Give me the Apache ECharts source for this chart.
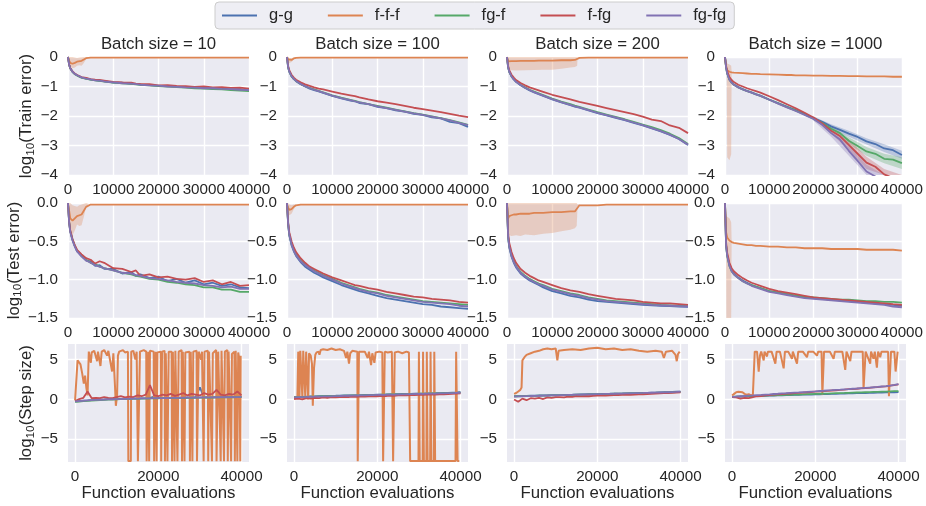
<!DOCTYPE html>
<html><head><meta charset="utf-8">
<script src="https://cdn.jsdelivr.net/npm/echarts@6/dist/echarts.min.js"></script>
<style>html,body{margin:0;padding:0;background:#fff}#c{width:926px;height:506px}</style>
</head><body><div id="c"></div>
<script>
// ---------------- data ----------------
const SERIES_NAMES = ['g-g', 'f-f-f', 'fg-f', 'f-fg', 'fg-fg'];
const SERIES_COLORS = ['#4c72b0', '#dd8452', '#55a868', '#c44e52', '#8172b3'];
const BATCH_SIZES = [10, 100, 200, 1000];
const ROW_LABELS = ['Train error', 'Test error', 'Step size'];
const X_TICKS_STEP = [0, 20000, 40000];
const Y_TICKS_STEP = [-5, 0, 5];

const X_ERR = [0,250,500,1000,1500,2000,3000,4000,5000,6000,7000,8000,10000,12000,14000,15000,16000,18000,20000,22000,24000,26000,28000,30000,32000,34000,36000,38000,40000];

// Train error (log10)
const TR10_GG   = [0,-0.26,-0.38,-0.5,-0.58,-0.62,-0.7,-0.72,-0.77,-0.78,-0.81,-0.82,-0.87,-0.87,-0.91,-0.91,-0.94,-0.95,-0.98,-0.98,-1.01,-1.02,-1.04,-1.03,-1.07,-1.06,-1.1,-1.09,-1.13];
const TR10_FFF  = [0,-0.12,-0.2,-0.23,-0.2,-0.16,-0.13,-0.04,-0.02,-0.02,-0.02,-0.02,-0.02,-0.02,-0.02,-0.02,-0.02,-0.02,-0.02,-0.02,-0.02,-0.02,-0.02,-0.02,-0.02,-0.02,-0.02,-0.02,-0.02];
const TR10_FGF  = [0,-0.26,-0.39,-0.51,-0.58,-0.63,-0.7,-0.74,-0.77,-0.79,-0.81,-0.83,-0.87,-0.89,-0.91,-0.93,-0.94,-0.96,-0.99,-1.0,-1.02,-1.04,-1.06,-1.07,-1.09,-1.1,-1.12,-1.14,-1.16];
const TR10_FFG  = [0,-0.25,-0.37,-0.49,-0.56,-0.61,-0.68,-0.71,-0.75,-0.77,-0.78,-0.8,-0.84,-0.86,-0.87,-0.9,-0.91,-0.92,-0.96,-0.95,-0.98,-0.99,-1.01,-1.0,-1.03,-1.02,-1.05,-1.04,-1.07];
const TR10_FGFG = [0,-0.26,-0.38,-0.5,-0.57,-0.62,-0.69,-0.73,-0.76,-0.79,-0.8,-0.83,-0.86,-0.89,-0.9,-0.92,-0.94,-0.96,-0.97,-1.0,-1.01,-1.03,-1.04,-1.06,-1.06,-1.08,-1.09,-1.11,-1.12];

const TR100_GG   = [0,-0.35,-0.5,-0.66,-0.75,-0.82,-0.92,-1.0,-1.07,-1.12,-1.17,-1.22,-1.32,-1.4,-1.48,-1.5,-1.56,-1.6,-1.69,-1.73,-1.81,-1.85,-1.93,-1.96,-2.05,-2.08,-2.2,-2.24,-2.37];
const TR100_FFF  = [0,-0.08,-0.12,-0.1,-0.05,-0.03,-0.02,-0.02,-0.02,-0.02,-0.02,-0.02,-0.02,-0.02,-0.02,-0.02,-0.02,-0.02,-0.02,-0.02,-0.02,-0.02,-0.02,-0.02,-0.02,-0.02,-0.02,-0.02,-0.02];
const TR100_FGF  = [0,-0.35,-0.49,-0.65,-0.74,-0.81,-0.91,-0.99,-1.05,-1.1,-1.15,-1.2,-1.3,-1.38,-1.45,-1.49,-1.53,-1.6,-1.66,-1.72,-1.78,-1.84,-1.9,-1.95,-2.01,-2.07,-2.14,-2.22,-2.3];
const TR100_FFG  = [0,-0.3,-0.45,-0.6,-0.7,-0.77,-0.86,-0.93,-0.98,-1.03,-1.07,-1.1,-1.17,-1.24,-1.3,-1.33,-1.37,-1.44,-1.5,-1.55,-1.6,-1.66,-1.72,-1.77,-1.82,-1.87,-1.93,-1.99,-2.04];
const TR100_FGFG = [0,-0.34,-0.49,-0.65,-0.74,-0.81,-0.91,-0.99,-1.05,-1.11,-1.16,-1.21,-1.31,-1.39,-1.46,-1.5,-1.54,-1.6,-1.67,-1.73,-1.79,-1.85,-1.91,-1.96,-2.02,-2.08,-2.15,-2.23,-2.31];

const TR200_GG   = [0,-0.35,-0.5,-0.66,-0.76,-0.84,-0.96,-1.05,-1.13,-1.2,-1.26,-1.32,-1.44,-1.54,-1.63,-1.68,-1.72,-1.81,-1.9,-1.98,-2.06,-2.14,-2.23,-2.32,-2.42,-2.52,-2.64,-2.78,-2.98];
const TR200_FFF  = [0,-0.15,-0.14,-0.14,-0.14,-0.14,-0.13,-0.13,-0.13,-0.13,-0.12,-0.12,-0.12,-0.11,-0.11,-0.1,-0.03,-0.02,-0.02,-0.02,-0.02,-0.02,-0.02,-0.02,-0.02,-0.02,-0.02,-0.02,-0.02];
const TR200_FGF  = [0,-0.35,-0.5,-0.65,-0.75,-0.83,-0.94,-1.03,-1.11,-1.17,-1.23,-1.29,-1.41,-1.51,-1.6,-1.65,-1.69,-1.78,-1.87,-1.95,-2.03,-2.11,-2.2,-2.29,-2.38,-2.48,-2.6,-2.75,-2.95];
const TR200_FFG  = [0,-0.3,-0.45,-0.6,-0.7,-0.78,-0.88,-0.96,-1.03,-1.08,-1.13,-1.18,-1.28,-1.36,-1.44,-1.48,-1.52,-1.59,-1.66,-1.73,-1.8,-1.87,-1.94,-2.02,-2.12,-2.17,-2.32,-2.4,-2.58];
const TR200_FGFG = [0,-0.35,-0.5,-0.66,-0.76,-0.84,-0.95,-1.04,-1.12,-1.19,-1.25,-1.31,-1.43,-1.53,-1.62,-1.67,-1.71,-1.8,-1.89,-1.97,-2.05,-2.13,-2.22,-2.31,-2.41,-2.51,-2.63,-2.78,-2.97];

const TR1000_GG   = [0,-0.35,-0.55,-0.76,-0.86,-0.93,-1.02,-1.09,-1.15,-1.2,-1.26,-1.31,-1.44,-1.56,-1.68,-1.74,-1.8,-1.93,-2.07,-2.2,-2.35,-2.47,-2.6,-2.71,-2.86,-2.95,-3.1,-3.16,-3.32];
const TR1000_FFF  = [0,-0.35,-0.45,-0.5,-0.52,-0.53,-0.54,-0.55,-0.56,-0.57,-0.57,-0.58,-0.59,-0.6,-0.61,-0.61,-0.62,-0.62,-0.63,-0.63,-0.64,-0.64,-0.65,-0.65,-0.66,-0.66,-0.66,-0.67,-0.67];
const TR1000_FGF  = [0,-0.36,-0.56,-0.77,-0.87,-0.94,-1.03,-1.1,-1.16,-1.21,-1.27,-1.32,-1.45,-1.57,-1.7,-1.76,-1.82,-1.95,-2.09,-2.24,-2.43,-2.58,-2.84,-3.02,-3.2,-3.28,-3.45,-3.48,-3.6];
const TR1000_FFG  = [0,-0.3,-0.48,-0.68,-0.78,-0.85,-0.94,-1.0,-1.06,-1.11,-1.16,-1.21,-1.33,-1.46,-1.6,-1.67,-1.74,-1.89,-2.05,-2.25,-2.5,-2.68,-2.98,-3.28,-3.58,-3.72,-3.98,-4.1,-4.3];
const TR1000_FGFG = [0,-0.36,-0.56,-0.77,-0.87,-0.94,-1.03,-1.1,-1.16,-1.21,-1.27,-1.32,-1.45,-1.58,-1.71,-1.77,-1.83,-1.96,-2.1,-2.3,-2.58,-2.8,-3.18,-3.52,-3.88,-4.05,-4.3,-4.5,-4.7];

// Test error (log10)
const TE10_GG   = [0,-0.25,-0.37,-0.48,-0.56,-0.63,-0.68,-0.75,-0.76,-0.82,-0.81,-0.86,-0.86,-0.92,-0.9,-0.95,-0.93,-0.98,-0.96,-1.02,-0.99,-1.04,-1.01,-1.06,-1.04,-1.08,-1.06,-1.1,-1.11];
const TE10_FFF  = [-0.02,-0.1,-0.2,-0.23,-0.2,-0.17,-0.15,-0.05,-0.02,-0.02,-0.02,-0.02,-0.02,-0.02,-0.02,-0.02,-0.02,-0.02,-0.02,-0.02,-0.02,-0.02,-0.02,-0.02,-0.02,-0.02,-0.02,-0.02,-0.02];
const TE10_FGF  = [0,-0.25,-0.37,-0.48,-0.56,-0.62,-0.69,-0.74,-0.78,-0.8,-0.83,-0.85,-0.88,-0.91,-0.93,-0.95,-0.96,-0.99,-1.0,-1.03,-1.04,-1.06,-1.07,-1.1,-1.1,-1.13,-1.13,-1.16,-1.16];
const TE10_FFG  = [0,-0.24,-0.36,-0.47,-0.55,-0.61,-0.67,-0.72,-0.74,-0.79,-0.76,-0.78,-0.85,-0.86,-0.9,-0.88,-0.95,-0.93,-0.97,-0.96,-0.99,-1.0,-0.98,-1.03,-1.01,-1.06,-1.03,-1.08,-1.07];
const TE10_FGFG = [0,-0.26,-0.38,-0.49,-0.57,-0.63,-0.7,-0.75,-0.78,-0.81,-0.83,-0.85,-0.88,-0.91,-0.92,-0.94,-0.95,-0.98,-0.99,-1.01,-1.03,-1.04,-1.05,-1.07,-1.08,-1.1,-1.09,-1.12,-1.12];

const TE100_GG   = [0,-0.28,-0.42,-0.55,-0.63,-0.69,-0.77,-0.83,-0.87,-0.91,-0.94,-0.97,-1.02,-1.07,-1.11,-1.13,-1.15,-1.18,-1.21,-1.24,-1.26,-1.28,-1.3,-1.32,-1.33,-1.35,-1.36,-1.37,-1.38];
const TE100_FFF  = [-0.02,-0.06,-0.09,-0.08,-0.05,-0.03,-0.02,-0.02,-0.02,-0.02,-0.02,-0.02,-0.02,-0.02,-0.02,-0.02,-0.02,-0.02,-0.02,-0.02,-0.02,-0.02,-0.02,-0.02,-0.02,-0.02,-0.02,-0.02,-0.02];
const TE100_FGF  = [0,-0.27,-0.41,-0.53,-0.61,-0.67,-0.75,-0.8,-0.84,-0.88,-0.91,-0.94,-0.99,-1.04,-1.08,-1.1,-1.12,-1.15,-1.17,-1.2,-1.22,-1.24,-1.26,-1.28,-1.29,-1.3,-1.31,-1.32,-1.33];
const TE100_FFG  = [0,-0.25,-0.38,-0.5,-0.58,-0.64,-0.72,-0.78,-0.83,-0.86,-0.89,-0.92,-0.97,-1.01,-1.05,-1.07,-1.08,-1.11,-1.13,-1.16,-1.18,-1.2,-1.22,-1.23,-1.25,-1.26,-1.27,-1.29,-1.3];
const TE100_FGFG = [0,-0.27,-0.41,-0.54,-0.62,-0.68,-0.76,-0.81,-0.85,-0.89,-0.92,-0.95,-1.0,-1.05,-1.09,-1.11,-1.13,-1.16,-1.18,-1.21,-1.23,-1.25,-1.27,-1.29,-1.3,-1.31,-1.32,-1.34,-1.35];

const TE200_GG   = [0,-0.45,-0.58,-0.7,-0.78,-0.84,-0.92,-0.97,-1.01,-1.04,-1.07,-1.1,-1.15,-1.18,-1.21,-1.22,-1.23,-1.26,-1.28,-1.29,-1.3,-1.31,-1.32,-1.33,-1.335,-1.34,-1.345,-1.35,-1.355];
const TE200_FFF  = [0,-0.2,-0.17,-0.16,-0.15,-0.15,-0.14,-0.14,-0.14,-0.13,-0.13,-0.13,-0.12,-0.12,-0.11,-0.11,-0.03,-0.03,-0.03,-0.02,-0.02,-0.02,-0.02,-0.02,-0.02,-0.02,-0.02,-0.02,-0.02];
const TE200_FGF  = [0,-0.44,-0.56,-0.68,-0.76,-0.82,-0.9,-0.95,-0.99,-1.02,-1.05,-1.07,-1.12,-1.15,-1.18,-1.19,-1.2,-1.23,-1.25,-1.27,-1.28,-1.29,-1.3,-1.31,-1.32,-1.33,-1.335,-1.34,-1.345];
const TE200_FFG  = [0,-0.4,-0.52,-0.64,-0.72,-0.78,-0.86,-0.91,-0.95,-0.98,-1.01,-1.03,-1.07,-1.11,-1.14,-1.15,-1.16,-1.19,-1.21,-1.23,-1.25,-1.26,-1.27,-1.29,-1.3,-1.31,-1.31,-1.32,-1.33];
const TE200_FGFG = [0,-0.44,-0.57,-0.69,-0.77,-0.83,-0.91,-0.96,-1.0,-1.03,-1.06,-1.08,-1.13,-1.16,-1.19,-1.2,-1.21,-1.24,-1.26,-1.28,-1.29,-1.3,-1.31,-1.32,-1.33,-1.335,-1.34,-1.345,-1.35];

const TE1000_GG   = [0,-0.55,-0.68,-0.81,-0.88,-0.92,-0.97,-1.01,-1.04,-1.07,-1.09,-1.11,-1.15,-1.17,-1.19,-1.2,-1.21,-1.23,-1.24,-1.25,-1.26,-1.27,-1.28,-1.29,-1.3,-1.31,-1.32,-1.33,-1.34];
const TE1000_FFF  = [0,-0.38,-0.45,-0.49,-0.51,-0.52,-0.53,-0.54,-0.55,-0.55,-0.56,-0.56,-0.57,-0.57,-0.58,-0.58,-0.58,-0.59,-0.59,-0.59,-0.6,-0.6,-0.6,-0.6,-0.61,-0.61,-0.61,-0.61,-0.62];
const TE1000_FGF  = [0,-0.56,-0.69,-0.82,-0.89,-0.93,-0.98,-1.02,-1.05,-1.07,-1.09,-1.11,-1.15,-1.17,-1.19,-1.2,-1.21,-1.22,-1.23,-1.24,-1.25,-1.26,-1.26,-1.27,-1.28,-1.28,-1.29,-1.29,-1.3];
const TE1000_FFG  = [0,-0.52,-0.65,-0.78,-0.85,-0.89,-0.94,-0.98,-1.01,-1.04,-1.06,-1.08,-1.12,-1.15,-1.17,-1.18,-1.19,-1.21,-1.23,-1.24,-1.25,-1.26,-1.27,-1.28,-1.29,-1.3,-1.31,-1.32,-1.33];
const TE1000_FGFG = [0,-0.56,-0.69,-0.82,-0.89,-0.93,-0.98,-1.02,-1.05,-1.08,-1.1,-1.12,-1.16,-1.18,-1.2,-1.21,-1.22,-1.24,-1.25,-1.26,-1.27,-1.28,-1.29,-1.3,-1.31,-1.32,-1.33,-1.35,-1.36];

// Confidence bands (x, lower, upper)
const BAND_TR10_FFF   = {x:[0,250,500,1000,1500,2000,2500,3000,3500,4000,4500], lo:[0,-0.2,-0.32,-0.38,-0.36,-0.3,-0.28,-0.3,-0.2,-0.07,-0.02], hi:[0,0,0,0,-0.02,-0.03,-0.02,-0.01,0,0,0]};
const BAND_TR100_FFF  = {x:[0,250,500,1000,1500,2000], lo:[0,-0.15,-0.2,-0.17,-0.08,-0.03], hi:[0,0,-0.03,-0.03,-0.02,-0.02]};
const BAND_TR200_FFF  = {x:[0,250,500,1000,2000,4000,6000,8000,10000,12000,14000,15000,15500,15600,16000], lo:[0,-0.3,-0.42,-0.45,-0.46,-0.45,-0.44,-0.43,-0.43,-0.4,-0.36,-0.34,-0.3,-0.03,-0.02], hi:[0,0,0,0,0,0,0,0,0,0,0,0,0,-0.02,-0.02]};
const BAND_TR1000_FFF = {x:[0,250,400,500,1000,1400,1500,2000], lo:[0,-0.4,-0.5,-3.4,-3.5,-3.3,-0.55,-0.54], hi:[0,-0.2,-0.2,-0.22,-0.25,-0.3,-0.5,-0.52]};
const BAND_TR1000_GG   = {x:[20000,24000,28000,32000,36000,40000], lo:[-2.12,-2.43,-2.7,-2.97,-3.22,-3.45], hi:[-2.02,-2.28,-2.5,-2.75,-2.96,-3.18]};
const BAND_TR1000_FGF  = {x:[20000,24000,28000,32000,36000,40000], lo:[-2.14,-2.5,-2.95,-3.35,-3.6,-3.8], hi:[-2.04,-2.35,-2.72,-3.05,-3.28,-3.4]};
const BAND_TR1000_FFG  = {x:[20000,24000,28000,32000,36000,40000], lo:[-2.1,-2.6,-3.15,-3.8,-4.1,-4.4], hi:[-2.0,-2.4,-2.8,-3.38,-3.8,-4.1]};
const BAND_TR1000_FGFG = {x:[20000,24000,28000,32000,36000,40000], lo:[-2.16,-2.7,-3.35,-4.1,-4.4,-4.7], hi:[-2.04,-2.45,-3.0,-3.65,-4.15,-4.5]};
const BAND_TE10_FFF   = {x:[0,250,500,1000,1500,2000,2500,3000,3500,4000,4500], lo:[0,-0.25,-0.38,-0.42,-0.36,-0.28,-0.3,-0.29,-0.18,-0.05,-0.02], hi:[0,0,0,-0.03,-0.04,-0.05,-0.03,-0.02,-0.01,0,-0.01]};
const BAND_TE100_FFF  = {x:[0,250,500,1000,1500,2000], lo:[-0.02,-0.12,-0.16,-0.14,-0.08,-0.03], hi:[0,0,-0.02,-0.03,-0.02,-0.02]};
const BAND_TE200_FFF  = {x:[0,250,500,1000,2000,3000,4000,6000,8000,10000,12000,14000,15000,15400,15600,16000], lo:[0,-0.38,-0.42,-0.43,-0.42,-0.43,-0.41,-0.42,-0.4,-0.39,-0.37,-0.35,-0.33,-0.3,-0.04,-0.03], hi:[0,0,0,0,0,0,0,0,0,0,0,0,0,0,-0.02,-0.02]};
const BAND_TE1000_FFF = {x:[0,250,300,500,1000,1400,1500,2000], lo:[0,-0.3,-1.7,-1.7,-1.7,-1.7,-0.5,-0.52], hi:[0,-0.15,-0.17,-0.18,-0.2,-0.25,-0.49,-0.51]};

// Step size (log10)
const X_STEP = [0,1000,2000,3000,4000,5000,6000,7000,8000,9000,10000,11000,12000,13000,14000,15000,16000,17000,18000,19000,20000,21000,22000,23000,24000,25000,26000,27000,28000,29000,30000,31000,32000,33000,34000,35000,36000,37000,38000,39000,40000];
const ST10_GG   = [-0.25,-0.2,-0.15,-0.12,-0.08,-0.05,-0.02,0.0,0.03,0.05,0.06,0.08,0.1,0.09,0.12,0.13,0.12,0.15,0.2,0.35,0.15,0.17,0.2,0.18,0.2,0.22,0.21,0.24,0.22,0.3,1.5,0.26,0.28,0.25,0.3,0.28,0.3,0.31,0.32,0.3,0.35];
const ST10_FGF  = [-0.3,-0.26,-0.22,-0.18,-0.14,-0.11,-0.08,-0.06,-0.03,-0.01,0.0,0.03,0.04,0.05,0.07,0.08,0.09,0.1,0.12,0.12,0.13,0.15,0.15,0.16,0.17,0.19,0.18,0.19,0.21,0.21,0.22,0.23,0.23,0.24,0.25,0.25,0.26,0.27,0.27,0.28,0.28];
const ST10_FFG  = [-0.2,0.05,0.2,1.0,0.15,0.2,0.15,0.3,0.2,0.15,0.3,0.4,0.25,0.35,0.3,0.5,0.4,0.6,1.8,0.5,0.4,0.6,0.5,0.7,0.45,0.6,0.8,0.5,0.7,0.6,0.5,0.8,0.6,0.7,1.2,0.6,0.5,0.7,0.6,1.0,0.5];
const ST10_FGFG = [-0.25,-0.21,-0.17,-0.13,-0.1,-0.07,-0.04,-0.02,0.0,0.02,0.04,0.05,0.07,0.08,0.1,0.11,0.12,0.13,0.14,0.15,0.16,0.17,0.18,0.19,0.2,0.2,0.21,0.22,0.23,0.24,0.24,0.25,0.26,0.26,0.27,0.28,0.28,0.29,0.3,0.3,0.31];
const ST10_FFF = [[0,-0.1],[300,0.0],[600,4.9],[900,4.8],[1300,4.4],[1700,3.3],[2100,2.0],[2400,3.0],[2700,1.5],[3000,0.5],[3150,0.3],[3300,6.0],[3700,5.9],[3800,4.6],[4000,5.9],[4600,6.1],[5300,4.8],[5500,6.0],[6100,4.2],[6400,6.0],[7000,6.2],[7700,5.5],[8000,6.1],[8900,3.5],[9200,5.8],[9600,1.6],[9800,-0.8],[10100,0.5],[10300,5.5],[10600,6.0],[11500,6.2],[12000,5.9],[12700,6.0],[12800,-7.75],[13400,-7.75],[13500,6.0],[14000,6.1],[14500,5.0],[14800,6.0],[15000,6.1],[15100,-7.75],[15500,-7.75],[15600,6.0],[16500,6.2],[17100,6.0],[17200,-7.75],[17500,-7.75],[17600,6.0],[17800,-7.75],[18000,6.1],[18900,6.0],[19000,-7.75],[19300,-7.75],[19400,6.0],[19600,-7.75],[19800,5.9],[20600,6.0],[20700,-7.75],[20900,6.0],[21500,6.1],[21600,-7.75],[21800,5.8],[22200,-7.75],[22500,6.0],[23200,6.0],[23300,-7.75],[23500,6.0],[23900,-7.75],[24100,6.1],[24600,-7.75],[24900,6.0],[25600,6.2],[25700,-7.75],[25900,6.0],[26300,-7.75],[26500,5.9],[27500,6.0],[27600,-7.75],[27800,6.0],[28200,-7.75],[28400,6.0],[29200,6.1],[29300,-7.75],[29600,-7.75],[29700,6.0],[30300,5.0],[30500,6.0],[30900,-7.75],[31100,6.0],[31900,6.1],[32000,-7.75],[32200,6.0],[32900,-7.75],[33100,5.8],[33900,6.2],[34000,-7.75],[34300,-7.75],[34400,6.0],[35000,-7.75],[35200,6.1],[35800,-7.75],[36000,6.0],[36600,6.2],[36700,-7.75],[36900,6.0],[37500,-7.75],[37700,5.7],[38300,6.0],[38400,-7.75],[38600,6.1],[39000,-7.75],[39200,5.9],[39500,5.0],[39700,-7.75],[39800,5.5]];

const ST100_GG   = [0.3,0.32,0.33,0.36,0.37,0.38,0.41,0.42,0.44,0.45,0.46,0.48,0.49,0.5,0.52,0.53,0.55,0.56,0.57,0.58,0.6,0.61,0.62,0.64,0.65,0.66,0.68,0.69,0.7,0.72,0.73,0.74,0.76,0.77,0.78,0.8,0.82,0.83,0.85,0.87,0.92];
const ST100_FGF  = [0.28,0.3,0.31,0.33,0.35,0.36,0.38,0.4,0.41,0.43,0.44,0.45,0.47,0.48,0.5,0.51,0.52,0.54,0.55,0.56,0.58,0.59,0.6,0.62,0.63,0.64,0.65,0.67,0.68,0.69,0.71,0.72,0.73,0.75,0.76,0.77,0.79,0.8,0.82,0.83,0.85];
const ST100_FFG  = [0.05,0.1,0.0,0.15,0.1,0.2,0.15,0.25,0.2,0.28,0.25,0.3,0.32,0.3,0.35,0.33,0.38,0.36,0.4,0.42,0.4,0.45,0.43,0.48,0.46,0.5,0.52,0.5,0.55,0.53,0.58,0.56,0.6,0.62,0.6,0.65,0.64,0.68,0.7,0.72,0.75];
const ST100_FGFG = [0.26,0.28,0.3,0.31,0.33,0.34,0.36,0.37,0.39,0.4,0.42,0.43,0.45,0.46,0.47,0.49,0.5,0.52,0.53,0.54,0.56,0.57,0.58,0.6,0.61,0.62,0.64,0.65,0.66,0.68,0.69,0.7,0.72,0.73,0.74,0.76,0.77,0.79,0.8,0.82,0.84];
const ST100_FFF = [[0,0.3],[800,0.3],[1000,6.0],[1200,5.8],[1300,0.2],[1500,6.1],[1900,6.0],[2000,0.1],[2200,6.1],[2600,5.9],[2700,0.2],[2900,6.0],[3300,6.1],[3400,0.0],[3600,5.8],[4000,5.5],[4300,4.5],[4500,-0.8],[4800,4.0],[5100,5.6],[5400,5.9],[5900,6.0],[6100,5.6],[6400,6.2],[7000,6.3],[8000,6.2],[9000,6.4],[10000,6.2],[11000,6.3],[12000,6.1],[12500,5.2],[12800,6.0],[13200,4.5],[13500,5.8],[14000,6.1],[15200,6.0],[15300,-7.75],[15500,-7.75],[15600,6.0],[16000,6.1],[17000,6.0],[17700,5.2],[18000,6.0],[18500,4.3],[18800,5.8],[19300,4.6],[19600,5.9],[20500,6.0],[21200,5.9],[21400,-7.75],[21600,-7.75],[21800,6.0],[22500,5.9],[23500,6.0],[23800,-7.75],[24000,-7.75],[24200,5.9],[25000,6.0],[26000,5.8],[27000,6.0],[27600,5.9],[27900,-7.75],[29900,-7.75],[30000,6.0],[30200,-7.75],[30900,-7.75],[31000,6.0],[31200,-7.75],[31800,-7.75],[31900,6.0],[32100,-7.75],[32700,-7.75],[32800,6.0],[33000,-7.75],[33600,-7.75],[33700,6.0],[33900,-7.75],[38800,-7.75],[38950,6.0],[39150,6.0],[39300,-7.75],[39700,-7.75]];

const ST200_GG   = [0.4,0.42,0.43,0.45,0.46,0.47,0.49,0.5,0.51,0.53,0.54,0.55,0.57,0.58,0.59,0.61,0.62,0.63,0.65,0.66,0.67,0.69,0.7,0.71,0.73,0.74,0.75,0.77,0.78,0.79,0.81,0.82,0.83,0.85,0.86,0.88,0.9,0.92,0.94,0.96,0.98];
const ST200_FGF  = [0.38,0.4,0.41,0.43,0.44,0.45,0.47,0.48,0.49,0.51,0.52,0.53,0.55,0.56,0.57,0.59,0.6,0.61,0.63,0.64,0.65,0.67,0.68,0.69,0.71,0.72,0.73,0.75,0.76,0.77,0.79,0.8,0.81,0.83,0.84,0.86,0.87,0.89,0.9,0.92,0.94];
const ST200_FFG  = [0.0,-0.3,0.1,-0.1,0.15,0.1,0.2,0.05,0.25,0.2,0.3,0.28,0.25,0.35,0.33,0.4,0.38,0.42,0.4,0.45,0.48,0.5,0.47,0.52,0.55,0.53,0.58,0.6,0.58,0.62,0.65,0.63,0.68,0.7,0.72,0.75,0.78,0.8,0.83,0.86,0.88];
const ST200_FGFG = [0.36,0.38,0.4,0.42,0.43,0.45,0.46,0.48,0.49,0.5,0.52,0.53,0.55,0.56,0.57,0.59,0.6,0.62,0.63,0.64,0.66,0.67,0.69,0.7,0.71,0.73,0.74,0.76,0.77,0.78,0.8,0.81,0.83,0.84,0.85,0.87,0.88,0.9,0.92,0.94,0.97];
const ST200_FFF = [[0,0.7],[500,0.8],[1000,1.0],[1500,1.2],[1800,1.5],[2000,4.9],[2500,5.3],[3000,5.6],[4000,5.8],[5000,6.0],[6000,6.1],[7000,6.3],[8000,6.4],[9000,6.3],[10000,6.4],[10400,4.9],[10700,6.1],[12000,6.2],[14000,6.3],[16000,6.2],[18000,6.4],[20000,6.5],[22000,6.3],[24000,6.4],[26000,6.2],[28000,6.3],[30000,6.1],[32000,6.0],[34000,6.1],[35500,6.0],[36000,5.2],[36500,6.0],[38000,6.1],[38800,5.6],[39100,4.8],[39400,5.7],[39800,6.0]];

const ST1000_GG   = [0.33,0.35,0.36,0.38,0.39,0.41,0.42,0.44,0.45,0.47,0.48,0.5,0.51,0.53,0.54,0.56,0.57,0.59,0.6,0.62,0.63,0.64,0.66,0.67,0.69,0.7,0.72,0.73,0.75,0.76,0.78,0.79,0.8,0.82,0.83,0.85,0.86,0.88,0.89,0.9,0.92];
const ST1000_FGF  = [0.33,0.35,0.37,0.39,0.41,0.43,0.44,0.46,0.48,0.5,0.51,0.53,0.55,0.57,0.58,0.6,0.62,0.64,0.66,0.67,0.69,0.71,0.73,0.74,0.76,0.78,0.8,0.81,0.83,0.85,0.87,0.88,0.9,0.92,0.94,0.95,0.97,0.99,1.01,1.03,1.05];
const ST1000_FFG  = [0.3,0.25,0.1,0.2,0.15,0.3,0.4,0.42,0.5,0.55,0.6,0.64,0.66,0.72,0.74,0.8,0.83,0.86,0.9,0.93,0.98,1.0,1.05,1.08,1.12,1.15,1.2,1.22,1.28,1.3,1.34,1.38,1.42,1.46,1.5,1.55,1.6,1.65,1.72,1.8,1.88];
const ST1000_FGFG = [0.33,0.36,0.4,0.43,0.47,0.5,0.54,0.57,0.61,0.64,0.68,0.71,0.75,0.78,0.82,0.85,0.88,0.92,0.95,0.99,1.02,1.06,1.09,1.13,1.16,1.2,1.23,1.27,1.3,1.34,1.37,1.41,1.45,1.49,1.53,1.57,1.62,1.67,1.74,1.82,1.92];
const ST1000_FFF = [[0,0.5],[500,0.7],[1000,0.9],[1500,0.95],[2500,0.9],[3000,0.7],[3500,0.6],[4000,0.65],[4500,0.5],[5000,0.6],[5300,0.6],[5450,6.0],[6000,6.0],[6400,3.5],[6700,5.5],[7000,6.0],[7600,4.9],[7800,6.0],[8400,5.4],[8600,6.0],[9500,6.0],[10400,4.5],[10700,6.0],[11500,6.0],[12400,3.9],[12700,6.0],[13500,6.0],[14400,5.1],[14600,6.0],[15600,4.5],[15900,6.0],[17000,6.0],[18000,5.3],[18300,6.0],[19500,6.0],[20400,5.5],[20700,6.0],[21500,6.0],[21700,0.6],[21900,0.6],[22100,6.0],[23500,6.0],[24400,5.1],[24700,6.0],[26500,6.0],[27200,3.7],[27500,6.0],[28400,4.8],[28700,6.0],[30500,6.0],[31400,6.0],[31600,1.3],[31900,1.5],[32100,6.0],[33200,4.5],[33400,6.0],[34000,5.1],[34300,6.0],[34800,4.0],[35100,6.0],[35600,5.3],[35900,6.0],[37000,6.0],[37500,6.0],[37700,0.4],[38000,0.3],[38200,6.0],[39000,6.0],[39300,3.5],[39600,5.0],[39800,6.0]];

// ---------------- assembly ----------------
const ERR_ROWS = [
  [[TR10_GG,TR10_FFF,TR10_FGF,TR10_FFG,TR10_FGFG],[TR100_GG,TR100_FFF,TR100_FGF,TR100_FFG,TR100_FGFG],[TR200_GG,TR200_FFF,TR200_FGF,TR200_FFG,TR200_FGFG],[TR1000_GG,TR1000_FFF,TR1000_FGF,TR1000_FFG,TR1000_FGFG]],
  [[TE10_GG,TE10_FFF,TE10_FGF,TE10_FFG,TE10_FGFG],[TE100_GG,TE100_FFF,TE100_FGF,TE100_FFG,TE100_FGFG],[TE200_GG,TE200_FFF,TE200_FGF,TE200_FFG,TE200_FGFG],[TE1000_GG,TE1000_FFF,TE1000_FGF,TE1000_FFG,TE1000_FGFG]]
];
const STEP_ROW = [
  [ST10_GG, ST10_FFF, ST10_FGF, ST10_FFG, ST10_FGFG],
  [ST100_GG, ST100_FFF, ST100_FGF, ST100_FFG, ST100_FGFG],
  [ST200_GG, ST200_FFF, ST200_FGF, ST200_FFG, ST200_FGFG],
  [ST1000_GG, ST1000_FFF, ST1000_FGF, ST1000_FFG, ST1000_FGFG]
];
// [panel index, series index, band]
const BANDS = [
  [0,1,BAND_TR10_FFF],[1,1,BAND_TR100_FFF],[2,1,BAND_TR200_FFF],[3,1,BAND_TR1000_FFF],
  [3,0,BAND_TR1000_GG],[3,2,BAND_TR1000_FGF],[3,3,BAND_TR1000_FFG],[3,4,BAND_TR1000_FGFG],
  [4,1,BAND_TE10_FFF],[5,1,BAND_TE100_FFF],[6,1,BAND_TE200_FFF],[7,1,BAND_TE1000_FFF]
];

const FONT = "'Liberation Sans', Arial, Helvetica, sans-serif";
const TXT = '#262626';
const COL_LEFT = [68, 287, 507, 725], COL_W = 181;
const ROW_TOP = [57, 203, 344], ROW_H = [118, 115, 118];
const minus = s => String(s).replace('-', '\u2212');

const grids = [], xAxes = [], yAxes = [], series = [], titles = [];
const zip = (xs, ys) => xs.map((x, i) => [x, ys[i]]);

for (let r = 0; r < 3; r++) {
  for (let c = 0; c < 4; c++) {
    const idx = r * 4 + c;
    grids.push({left: COL_LEFT[c], top: ROW_TOP[r], width: COL_W, height: ROW_H[r],
      show: true, backgroundColor: '#eaeaf2', borderWidth: 0, containLabel: false});
    const splitLine = {show: true, lineStyle: {color: '#ffffff', width: 1.4}};
    const lbl = {color: TXT, fontSize: 15.2, fontFamily: FONT, margin: 7, showMinLabel: true, showMaxLabel: true, hideOverlap: false};
    const xa = {type: 'value', gridIndex: idx, axisLine: {show: false}, axisTick: {show: false}, splitLine};
    if (r < 2) {
      Object.assign(xa, {min: 0, max: 40000, interval: 10000, axisLabel: Object.assign({formatter: v => String(v)}, lbl)});
    } else {
      Object.assign(xa, {min: -1700, max: 41800,
        axisTick: {show: false, customValues: X_TICKS_STEP},
        axisLabel: Object.assign({customValues: X_TICKS_STEP, formatter: v => String(v)}, lbl),
        name: 'Function evaluations', nameLocation: 'middle', nameGap: 23,
        nameTextStyle: {color: TXT, fontSize: 16.8, fontFamily: FONT}});
    }
    xAxes.push(xa);
    const ya = {type: 'value', gridIndex: idx, axisLine: {show: false}, axisTick: {show: false}, splitLine};
    const ylbl = Object.assign({}, lbl, {margin: 10});
    if (r === 0) Object.assign(ya, {min: -4, max: 0, interval: 1, axisLabel: Object.assign(ylbl, {formatter: v => minus(v)})});
    else if (r === 1) Object.assign(ya, {min: -1.5, max: 0, interval: 0.5, axisLabel: Object.assign(ylbl, {formatter: v => minus(v.toFixed(1))})});
    else Object.assign(ya, {min: -7.86, max: 6.96, axisTick: {show: false, customValues: Y_TICKS_STEP},
      axisLabel: Object.assign(ylbl, {customValues: Y_TICKS_STEP, formatter: v => minus(v)})});
    if (c === 0) {
      Object.assign(ya, {name: 'log{s|10}(' + ROW_LABELS[r] + ')', nameLocation: 'middle', nameGap: [30, 35, 31][r],
        nameTextStyle: {color: TXT, fontSize: 16.8, fontFamily: FONT, lineHeight: 20,
          rich: {s: {fontSize: 11.8, fontFamily: FONT, color: TXT, verticalAlign: 'bottom', lineHeight: 13}}}});
    }
    yAxes.push(ya);
  }
}

for (let c = 0; c < 4; c++) {
  titles.push({text: 'Batch size = ' + BATCH_SIZES[c], left: COL_LEFT[c] + COL_W / 2, top: 36, textAlign: 'center', padding: 0,
    textStyle: {color: TXT, fontSize: 16.8, fontWeight: 'normal', fontFamily: FONT}});
}

// bands (drawn as polygons through the axes' scales)
BANDS.forEach(([idx, si, band]) => {
  series.push({
    type: 'custom', coordinateSystem: 'cartesian2d', xAxisIndex: idx, yAxisIndex: idx,
    silent: true, clip: true, z: 1,
    data: band.x.map((x, i) => [x, band.lo[i], band.hi[i]]),
    renderItem: function (params, api) {
      if (params.dataIndex !== 0) return null;
      const top = band.x.map((x, i) => api.coord([x, band.hi[i]]));
      const bot = band.x.map((x, i) => api.coord([x, band.lo[i]])).reverse();
      const pts = echarts.graphic.clipPointsByRect(top.concat(bot), params.coordSys);
      return {type: 'polygon', shape: {points: pts}, style: {fill: SERIES_COLORS[si], opacity: 0.3}};
    }
  });
});

// lines
for (let r = 0; r < 3; r++) {
  for (let c = 0; c < 4; c++) {
    const idx = r * 4 + c;
    for (let s = 0; s < 5; s++) {
      let data;
      if (r < 2) data = zip(X_ERR, ERR_ROWS[r][c][s]);
      else data = (s === 1) ? STEP_ROW[c][s] : zip(X_STEP, STEP_ROW[c][s]);
      series.push({
        name: SERIES_NAMES[s], type: 'line', xAxisIndex: idx, yAxisIndex: idx,
        data, showSymbol: false, symbol: 'none', clip: true, silent: true, z: 2 + s,
        lineStyle: {color: SERIES_COLORS[s], width: (r === 2 && s === 1) ? 2 : 1.8}, itemStyle: {color: SERIES_COLORS[s]}
      });
    }
  }
}

const chart = echarts.init(document.getElementById('c'));
chart.setOption({
  animation: false,
  backgroundColor: '#ffffff',
  title: titles,
  legend: {
    data: SERIES_NAMES, left: 215, top: 2, orient: 'horizontal',
    icon: 'rect', itemWidth: 35, itemHeight: 2, itemGap: 35,
    padding: [5, 8, 5, 7],
    backgroundColor: '#eeeef4', borderColor: '#cccccc', borderWidth: 1, borderRadius: 4,
    textStyle: {color: TXT, fontSize: 16.5, fontFamily: FONT, padding: [0, 0, 0, 7]},
    selectedMode: false
  },
  grid: grids, xAxis: xAxes, yAxis: yAxes, series
});
</script></body></html>
